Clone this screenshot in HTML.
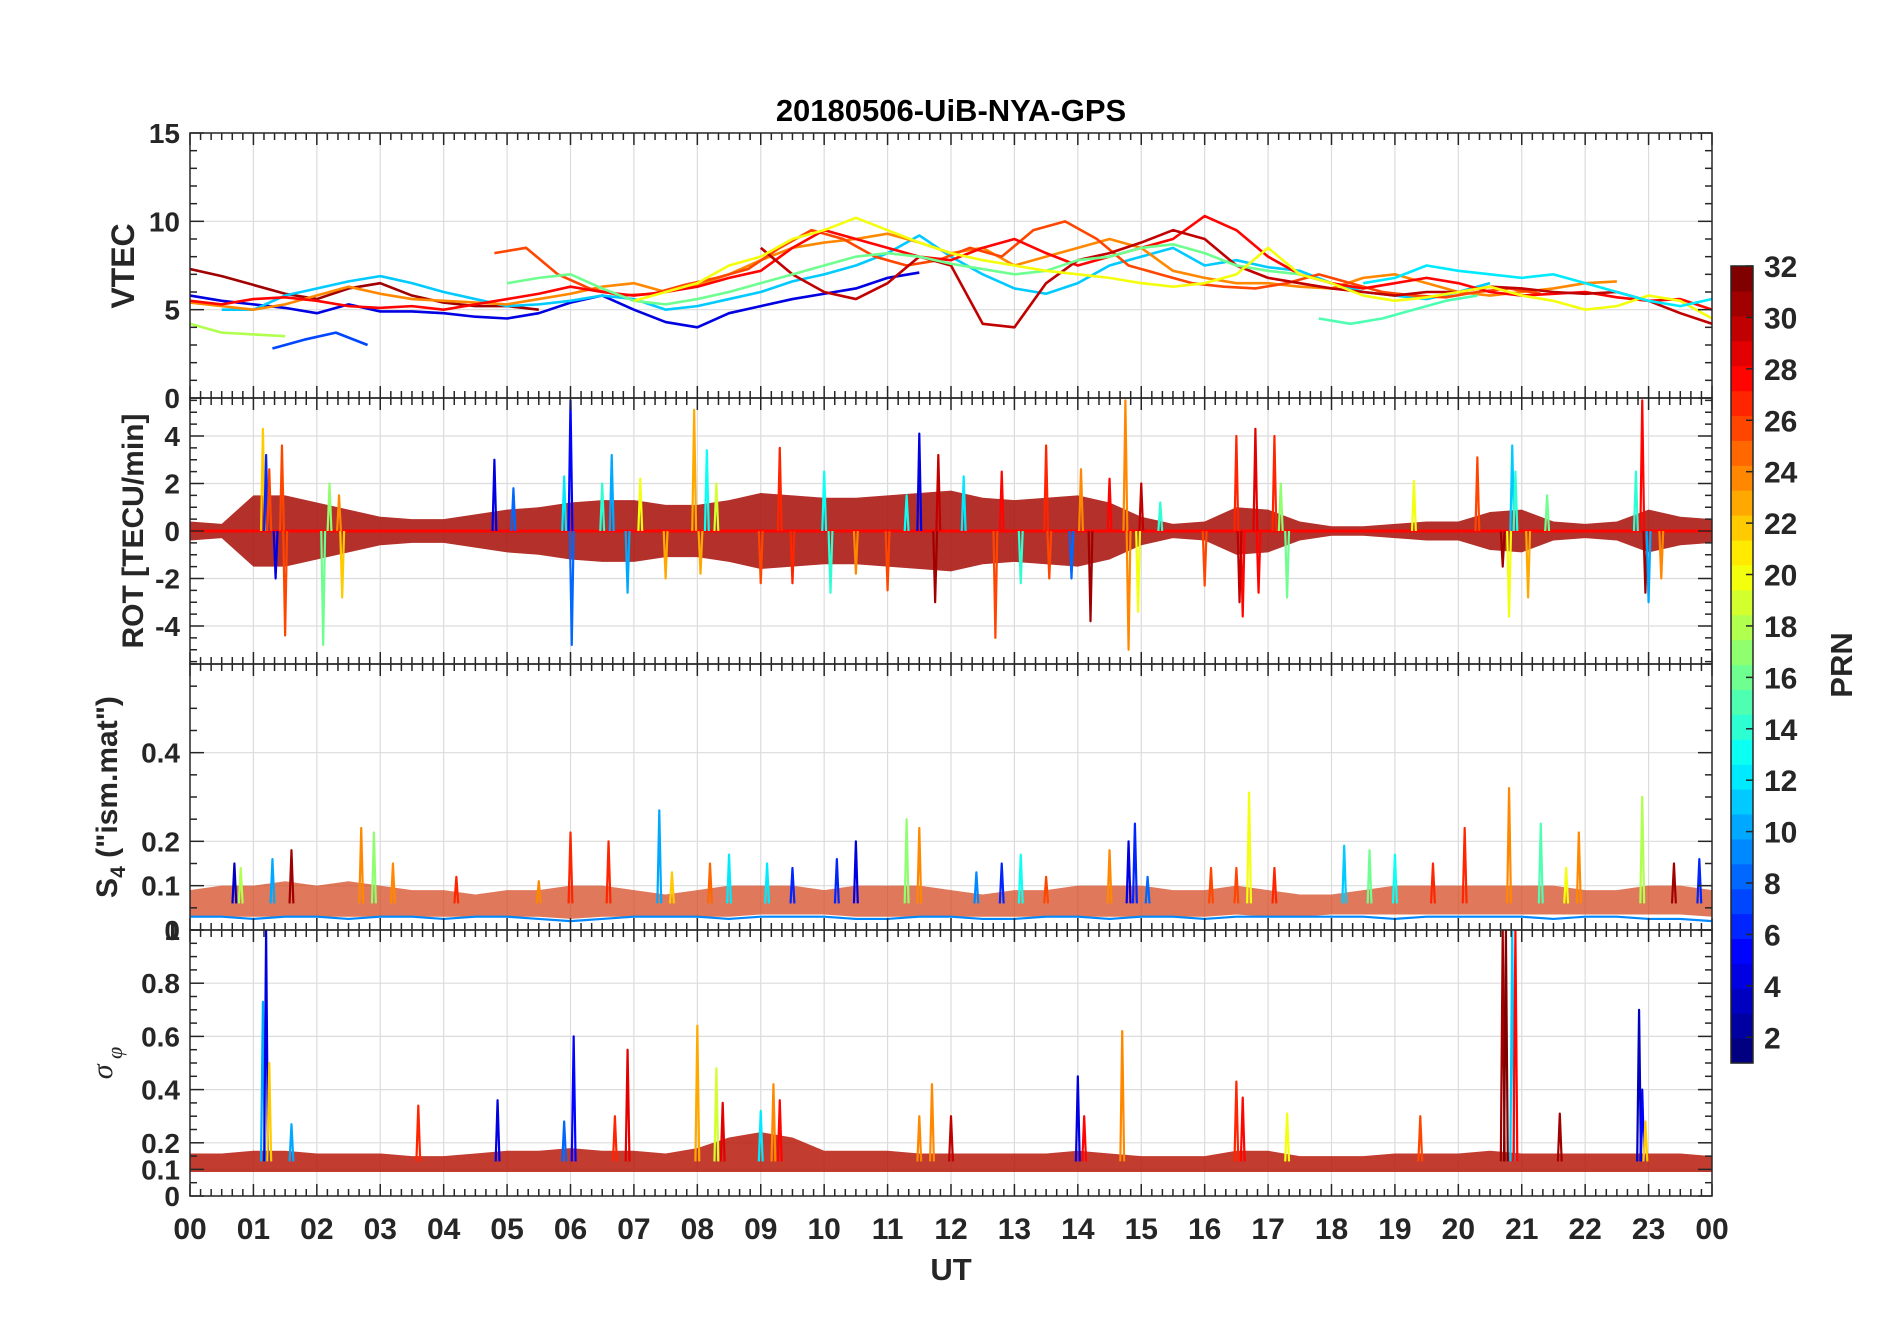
<!DOCTYPE html>
<html><head><meta charset="utf-8"><title>20180506-UiB-NYA-GPS</title>
<style>html,body{margin:0;padding:0;background:#fff}svg{display:block;font-family:"Liberation Sans",sans-serif}</style></head>
<body>
<svg id="fig" width="1902" height="1330" viewBox="0 0 1902 1330" xmlns="http://www.w3.org/2000/svg">
<text x="951" y="121" text-anchor="middle" font-size="31" font-weight="bold" fill="#000">20180506-UiB-NYA-GPS</text>
<g id="layer"></g>
</svg>
<script>
// ---------- data ----------
const hourTicks = ["00","01","02","03","04","05","06","07","08","09","10","11","12","13","14","15","16","17","18","19","20","21","22","23","00"];
const cbTicks = [2,4,6,8,10,12,14,16,18,20,22,24,26,28,30,32];

const vtecPrn = [31,4,7,18,11,24,26,28,30,16,15,20,12];
const vtecStart = [0,0,1.3,0,0.5,0,4.8,0,9,5,17.8,7,18.5];
const vtecValues = [
 [7.3,6.9,6.4,5.9,5.6,6.2,6.5,5.8,5.4,5.2,5.2,5.0],
 [5.8,5.5,5.3,5.1,4.8,5.3,4.9,4.9,4.8,4.6,4.5,4.8,5.4,5.8,5.0,4.3,4.0,4.8,5.2,5.6,5.9,6.2,6.8,7.1],
 [2.8,3.3,3.7,3.0],
 [4.2,3.7,3.6,3.5],
 [5.0,5.0,5.8,6.2,6.6,6.9,6.5,6.0,5.6,5.2,5.3,5.5,5.8,5.6,5.0,5.2,5.6,6.0,6.6,7.0,7.5,8.2,9.2,8.0,7.0,6.2,5.9,6.5,7.5,8.0,8.5,7.5,7.8,7.4,7.2,6.5,6.0,5.8,5.6,6.0,6.5],
 [5.4,5.2,5.0,5.3,5.8,6.3,5.9,5.6,5.5,5.4,5.3,5.6,5.9,6.3,6.5,6.0,6.4,7.0,7.8,8.5,8.8,9.0,9.3,8.8,8.2,8.5,7.5,8.0,8.5,9.0,8.5,7.2,6.8,6.5,6.5,6.3,6.2,6.8,7.0,6.5,6.0,5.8,6.0,6.2,6.5,6.6],
 [8.2,8.5,7.0,6.2,5.8,5.9,6.4,6.8,7.3,8.5,9.5,9.0,8.0,7.5,7.8,8.5,8.0,9.5,10.0,9.0,7.5,7.0,6.5,6.3,6.2,6.5,7.0,6.5,6.0,5.8,5.7,6.0,6.2,5.9],
 [5.5,5.3,5.6,5.7,5.5,5.2,5.1,5.2,5.0,5.3,5.6,5.9,6.3,6.0,5.8,6.0,6.3,6.8,7.2,8.5,9.5,9.0,8.5,8.0,7.8,8.5,9.0,8.2,7.5,8.0,8.5,9.0,10.3,9.5,8.0,7.0,6.5,6.2,6.5,6.8,6.5,6.0,5.8,5.9,6.0,5.7,5.5,5.6,5.0],
 [8.5,7.0,6.0,5.6,6.5,8.0,7.5,4.2,4.0,6.5,7.8,8.2,8.8,9.5,9.0,7.5,6.8,6.5,6.2,6.0,5.8,6.0,6.0,6.3,6.2,6.0,5.9,6.0,5.5,4.8,4.2],
 [6.5,6.8,7.0,6.2,5.5,5.3,5.6,6.0,6.5,7.0,7.5,8.0,8.2,8.0,7.6,7.3,7.0,7.2,7.8,8.0,8.5,8.7,8.2,7.5,7.2,7.0],
 [4.5,4.2,4.5,5.0,5.5,5.8],
 [5.5,6.0,6.5,7.5,8.0,9.0,9.5,10.2,9.5,8.8,8.2,7.8,7.5,7.2,7.0,6.8,6.5,6.3,6.5,7.0,8.5,7.0,6.5,5.8,5.5,5.7,6.0,6.3,5.8,5.5,5.0,5.2,5.8,5.5,4.5],
 [6.5,6.8,7.5,7.2,7.0,6.8,7.0,6.5,6.0,5.5,5.2,5.6,6.2]
];

const bandTimes = [0,0.5,1,1.5,2,2.5,3,3.5,4,4.5,5,5.5,6,6.5,7,7.5,8,8.5,9,9.5,10,10.5,11,11.5,12,12.5,13,13.5,14,14.5,15,15.5,16,16.5,17,17.5,18,18.5,19,19.5,20,20.5,21,21.5,22,22.5,23,23.5,24];
const rotBandAmp = [0.4,0.3,1.5,1.5,1.2,0.9,0.6,0.5,0.5,0.7,0.9,1.0,1.2,1.3,1.3,1.1,1.1,1.3,1.6,1.5,1.4,1.4,1.5,1.6,1.7,1.4,1.3,1.4,1.5,1.2,0.6,0.3,0.4,1.0,0.9,0.4,0.2,0.2,0.3,0.4,0.4,0.8,0.9,0.4,0.3,0.4,0.9,0.6,0.5];
const rotSpikeT = [1.15,1.2,1.35,1.45,1.5,1.25,2.1,2.2,2.35,2.4,4.8,5.1,5.9,6.0,6.02,6.5,6.65,6.9,7.1,7.5,7.95,8.05,8.15,8.3,9.0,9.3,9.5,10.0,10.1,10.5,11.0,11.3,11.5,11.8,11.75,12.2,12.7,12.8,13.1,13.5,13.55,13.9,14.05,14.2,14.5,14.75,14.8,14.95,15.0,15.3,16.0,16.5,16.6,16.55,16.8,16.85,17.3,17.1,17.2,19.3,20.3,20.7,20.8,20.85,20.9,21.1,21.4,22.9,22.95,23.0,22.8,23.2];
const rotSpikeV = [4.3,3.2,-2.0,3.6,-4.4,2.6,-4.8,2.0,1.5,-2.8,3.0,1.8,2.3,5.5,-4.8,2.0,3.2,-2.6,2.2,-2.0,5.1,-1.8,3.4,2.0,-2.2,3.5,-2.2,2.5,-2.6,-1.8,-2.5,1.5,4.1,3.2,-3.0,2.3,-4.5,2.5,-2.2,3.6,-2.0,-2.0,2.6,-3.8,2.2,5.5,-5.0,-3.4,2.0,1.2,-2.3,4.0,-3.6,-3.0,4.3,-2.6,-2.8,4.0,2.0,2.1,3.1,-1.5,-3.6,3.6,2.5,-2.8,1.5,5.5,-2.6,-3.0,2.5,-2.0];
const rotSpikePrn = [22,6,4,26,26,26,16,17,24,22,4,8,12,5,8,14,10,10,20,23,23,23,13,19,26,27,27,13,14,24,26,13,4,30,31,12,26,28,14,27,26,8,24,31,28,24,24,20,30,14,26,27,28,30,29,28,16,27,17,20,26,31,20,11,14,23,16,28,31,10,14,24];

const s4BandLo = [0.03,0.03,0.03,0.03,0.03,0.03,0.03,0.03,0.03,0.03,0.03,0.03,0.025,0.03,0.03,0.03,0.03,0.03,0.035,0.035,0.035,0.03,0.03,0.03,0.03,0.03,0.03,0.03,0.03,0.03,0.03,0.03,0.03,0.035,0.03,0.03,0.035,0.035,0.035,0.035,0.035,0.035,0.035,0.035,0.035,0.035,0.035,0.035,0.03];
const s4BandHi = [0.09,0.1,0.1,0.11,0.1,0.11,0.1,0.09,0.09,0.08,0.09,0.09,0.1,0.1,0.09,0.08,0.09,0.1,0.1,0.1,0.09,0.1,0.1,0.1,0.09,0.08,0.09,0.09,0.1,0.1,0.1,0.09,0.09,0.1,0.09,0.08,0.08,0.09,0.1,0.1,0.1,0.1,0.1,0.1,0.09,0.09,0.1,0.1,0.09];
const s4Base = [0.03,0.03,0.025,0.03,0.03,0.025,0.03,0.03,0.025,0.03,0.03,0.025,0.02,0.025,0.03,0.03,0.03,0.025,0.03,0.03,0.03,0.025,0.025,0.03,0.03,0.025,0.025,0.03,0.03,0.025,0.03,0.03,0.025,0.03,0.03,0.03,0.03,0.03,0.025,0.03,0.03,0.03,0.03,0.025,0.03,0.03,0.025,0.025,0.02];
const s4SpikeT = [0.7,0.8,1.3,1.6,2.7,2.9,3.2,4.2,5.5,6.0,6.6,7.4,7.6,8.2,8.5,9.1,9.5,10.2,10.5,11.3,11.5,12.4,12.8,13.1,13.5,14.5,14.8,14.9,15.1,16.1,16.5,16.7,17.1,18.2,18.6,19.0,19.6,20.1,20.8,21.3,21.7,21.9,22.9,23.4,23.8];
const s4SpikeV = [0.15,0.14,0.16,0.18,0.23,0.22,0.15,0.12,0.11,0.22,0.2,0.27,0.13,0.15,0.17,0.15,0.14,0.16,0.2,0.25,0.23,0.13,0.15,0.17,0.12,0.18,0.2,0.24,0.12,0.14,0.14,0.31,0.14,0.19,0.18,0.17,0.15,0.23,0.32,0.24,0.14,0.22,0.3,0.15,0.16];
const s4SpikePrn = [3,18,10,31,24,17,24,27,24,27,27,10,22,25,12,12,6,6,4,17,24,9,6,13,26,24,4,6,8,26,26,20,27,11,16,13,27,27,24,15,20,24,18,31,6];

const sigBandLo = [0.09,0.09,0.09,0.09,0.09,0.09,0.09,0.09,0.09,0.09,0.09,0.09,0.09,0.09,0.09,0.09,0.09,0.09,0.09,0.09,0.09,0.09,0.09,0.09,0.09,0.09,0.09,0.09,0.09,0.09,0.09,0.09,0.09,0.09,0.09,0.09,0.09,0.09,0.09,0.09,0.09,0.09,0.09,0.09,0.09,0.09,0.09,0.09,0.09];
const sigBandHi = [0.16,0.16,0.17,0.17,0.16,0.16,0.16,0.15,0.15,0.16,0.17,0.17,0.18,0.17,0.17,0.16,0.18,0.22,0.24,0.22,0.17,0.17,0.17,0.16,0.16,0.16,0.16,0.16,0.17,0.16,0.15,0.15,0.15,0.17,0.17,0.15,0.15,0.15,0.16,0.16,0.16,0.17,0.16,0.16,0.16,0.16,0.16,0.16,0.15];
const sigSpikeT = [1.15,1.2,1.25,1.6,3.6,4.85,5.9,6.05,6.7,6.9,8.0,8.3,8.4,9.0,9.2,9.3,11.5,11.7,12.0,14.0,14.1,14.7,16.5,16.6,17.3,19.4,20.7,20.75,20.85,20.9,21.6,22.85,22.9,22.95];
const sigSpikeV = [0.73,1.0,0.5,0.27,0.34,0.36,0.28,0.6,0.3,0.55,0.64,0.48,0.35,0.32,0.42,0.36,0.3,0.42,0.3,0.45,0.3,0.62,0.43,0.37,0.31,0.3,1.0,1.0,1.0,1.0,0.31,0.7,0.4,0.28];
const sigSpikePrn = [10,4,22,10,27,4,8,5,27,29,23,19,29,12,24,28,24,24,30,4,28,24,27,28,20,26,31,32,11,28,31,3,5,22];

// ---------- layout ----------
const X0 = 190, X1 = 1712;
const panels = [
 {name:'vtec', top:133, bot:398, min:0, max:15, major:[0,5,10,15], labels:["0","5","10","15"], minorStep:1},
 {name:'rot', top:398, bot:664, min:-5.6, max:5.6, major:[-4,-2,0,2,4], labels:["-4","-2","0","2","4"], minorStep:0.5},
 {name:'s4', top:664, bot:930, min:0, max:0.6, major:[0,0.1,0.2,0.4], labels:["0","0.1","0.2","0.4"], minorStep:0.05},
 {name:'sigma', top:930, bot:1196, min:0, max:1, major:[0,0.1,0.2,0.4,0.6,0.8,1], labels:["0","0.1","0.2","0.4","0.6","0.8","1"], minorStep:0.05}
];
const xs = t => X0 + (X1 - X0) * t / 24;
const ys = (p, v) => p.bot - (p.bot - p.top) * (v - p.min) / (p.max - p.min);

function jet(prn){
  const x = (prn - 1) / 31;
  const c = k => Math.round(255 * Math.max(0, Math.min(1, 1.5 - Math.abs(4 * x - k))));
  return `rgb(${c(3)},${c(2)},${c(1)})`;
}
const NS = 'http://www.w3.org/2000/svg';
const layer = document.getElementById('layer');
function mk(tag, attrs, parent){
  const e = document.createElementNS(NS, tag);
  for (const k in attrs) e.setAttribute(k, attrs[k]);
  (parent || layer).appendChild(e);
  return e;
}

panels.forEach(p => {
  const g = mk('g', {});
  
  
  const clipId = 'clip-' + p.name;
  const cp = mk('clipPath', {id: clipId}, g);
  mk('rect', {x: X0, y: p.top, width: X1 - X0, height: p.bot - p.top}, cp);
  for (let h = 1; h < 24; h++) {
    const l = mk('line', {x1: xs(h), x2: xs(h), y1: p.top, y2: p.bot, stroke: '#dcdcdc', 'stroke-width': 1.2}, g);
    
    
  }
  p.major.forEach(v => {
    const l = mk('line', {x1: X0, x2: X1, y1: ys(p, v), y2: ys(p, v), stroke: '#dcdcdc', 'stroke-width': 1.2}, g);
    
    
  });
  const data = mk('g', {'clip-path': `url(#${clipId})`, fill: 'none', 'stroke-linejoin': 'round'}, g);
  
  
  p.g = data;
  const ax = mk('g', {stroke: '#262626', 'stroke-width': 1.5, fill: 'none'}, g);
  
  
  mk('rect', {x: X0, y: p.top, width: X1 - X0, height: p.bot - p.top}, ax);
  for (let m = 0; m <= 144; m++) {
    const x = xs(m / 6), len = (m % 6 === 0) ? 12 : 7;
    mk('line', {x1: x, x2: x, y1: p.bot, y2: p.bot - len}, ax);
    mk('line', {x1: x, x2: x, y1: p.top, y2: p.top + len}, ax);
  }
  const start = Math.ceil(p.min / p.minorStep);
  for (let i = start; i * p.minorStep <= p.max + 1e-9; i++) {
    const v = i * p.minorStep, y = ys(p, v);
    const isMaj = p.major.some(m => Math.abs(m - v) < 1e-9);
    const len = isMaj ? 14 : 7;
    mk('line', {x1: X0, x2: X0 + len, y1: y, y2: y}, ax);
    mk('line', {x1: X1, x2: X1 - len, y1: y, y2: y}, ax);
  }
  p.major.forEach((v, i) => {
    const t = mk('text', {x: 180, y: ys(p, v) + 10, 'text-anchor': 'end', 'font-size': 28, 'font-weight': 'bold', fill: '#262626'}, g);
    t.textContent = p.labels[i];
    
    
  });
});

function line(p, pts, prn, w){
  const e = mk('polyline', {points: pts.map(q => q.join(',')).join(' '), stroke: jet(prn), 'stroke-width': w || 2.6}, p.g);
  
  
}
function band(p, lo, hi, color, op){
  const top = bandTimes.map((t, i) => [xs(t), ys(p, hi[i])]);
  const bot = bandTimes.map((t, i) => [xs(t), ys(p, lo[i])]).reverse();
  const e = mk('polygon', {points: top.concat(bot).map(q => q.join(',')).join(' '), fill: color, 'fill-opacity': op, stroke: 'none'}, p.g);
  
  
}
function spikes(p, T, V, P, base){
  T.forEach((t, i) => {
    line(p, [[xs(t - 0.03), ys(p, base)], [xs(t), ys(p, V[i])], [xs(t + 0.03), ys(p, base)]], P[i], 2.2);
  });
}

// VTEC
vtecValues.forEach((vals, k) => {
  line(panels[0], vals.map((v, i) => [xs(vtecStart[k] + i * 0.5), ys(panels[0], v)]), vtecPrn[k]);
});
// ROT
band(panels[1], rotBandAmp.map(a => -a), rotBandAmp, '#a8140c', 0.88);
line(panels[1], bandTimes.map(t => [xs(t), ys(panels[1], 0)]), 28, 3);
spikes(panels[1], rotSpikeT, rotSpikeV, rotSpikePrn, 0);
// S4
band(panels[2], s4BandLo, s4BandHi, '#d4451c', 0.72);
line(panels[2], bandTimes.map((t, i) => [xs(t), ys(panels[2], s4Base[i])]), 9, 2.2);
spikes(panels[2], s4SpikeT, s4SpikeV, s4SpikePrn, 0.06);
// sigma
band(panels[3], sigBandLo, sigBandHi, '#b81a0c', 0.85);
spikes(panels[3], sigSpikeT, sigSpikeV, sigSpikePrn, 0.13);

// x tick labels
hourTicks.forEach((s, h) => {
  const t = mk('text', {x: xs(h), y: 1239, 'text-anchor': 'middle', 'font-size': 30, 'font-weight': 'bold', fill: '#262626'});
  t.textContent = s;
  
  
});
const ut = mk('text', {x: 951, y: 1280, 'text-anchor': 'middle', 'font-size': 31, 'font-weight': 'bold', fill: '#262626'});
ut.textContent = 'UT';



function ytitle(txt, x, y, name, size){
  const t = mk('text', {x: x, y: y, transform: `rotate(-90 ${x} ${y})`, 'text-anchor': 'middle', 'font-size': size, 'font-weight': 'bold', fill: '#262626'});
  t.textContent = txt;
  
  
  return t;
}
ytitle('VTEC', 134, 266, 'vtec-axis-title', 32);
ytitle('ROT [TECU/min]', 143, 531, 'rot-axis-title', 30);
const s4t = ytitle('', 117, 797, 's4-axis-title', 30);
s4t.innerHTML = 'S<tspan font-size="21" dy="8">4</tspan><tspan dy="-8"> ("ism.mat")</tspan>';
const sgt = mk('text', {x: 112, y: 1063, transform: 'rotate(-90 112 1063)', 'text-anchor': 'middle', 'font-size': 30, 'font-style': 'italic', fill: '#262626', 'font-family': '"Liberation Serif", serif'});
sgt.innerHTML = 'σ<tspan font-size="22" dy="10"> φ</tspan>';



// colorbar
const CB = {x: 1731, w: 22, top: 266, bot: 1063};
const cbY = v => CB.bot - (CB.bot - CB.top) * (v - 1) / 31;
const cbg = mk('g', {});


for (let i = 1; i <= 32; i++) {
  const y0 = CB.bot - (CB.bot - CB.top) * (i - 1) / 32, y1 = CB.bot - (CB.bot - CB.top) * i / 32;
  const r = mk('rect', {x: CB.x, y: y1, width: CB.w, height: y0 - y1 + 0.6, fill: jet(i)}, cbg);
  
  
}
mk('rect', {x: CB.x, y: CB.top, width: CB.w, height: CB.bot - CB.top, fill: 'none', stroke: '#262626', 'stroke-width': 1.5}, cbg);
cbTicks.forEach(v => {
  mk('line', {x1: CB.x + CB.w - 7, x2: CB.x + CB.w, y1: cbY(v), y2: cbY(v), stroke: '#262626', 'stroke-width': 1.5}, cbg);
  const t = mk('text', {x: 1764, y: cbY(v) + 11, 'font-size': 30, 'font-weight': 'bold', fill: '#262626'}, cbg);
  t.textContent = String(v);
  
  
});
ytitle('PRN', 1852, 665, 'colorbar-title', 31);
</script>
</body></html>
